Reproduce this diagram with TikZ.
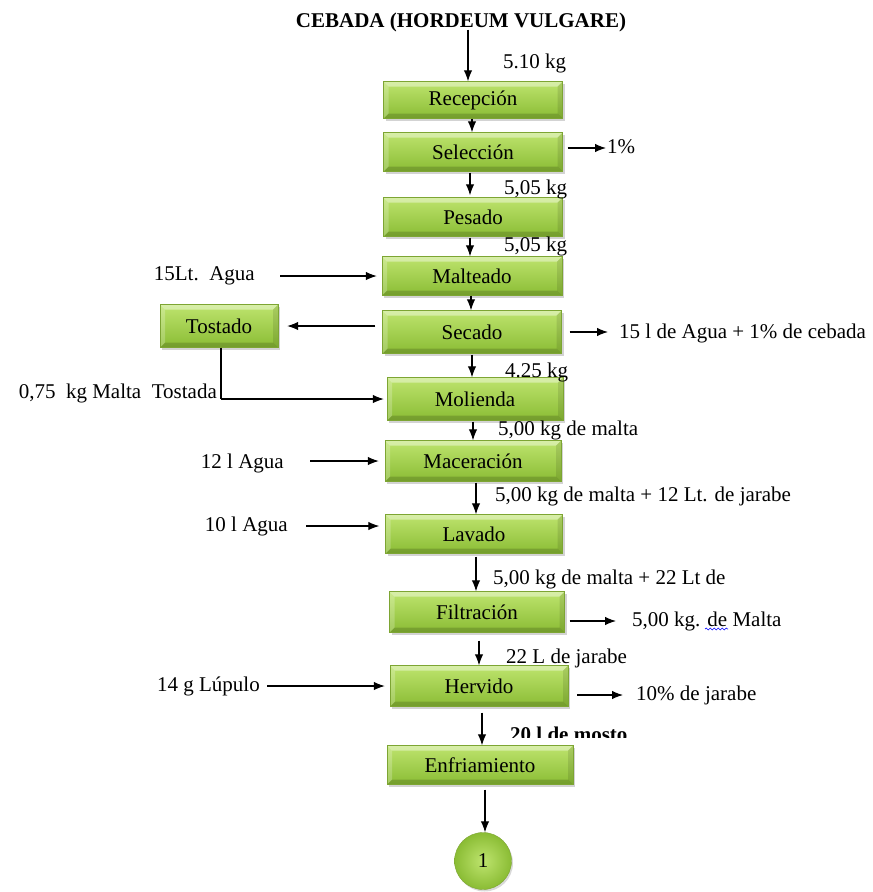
\documentclass[tikz,border=0pt]{standalone}
\usepackage{fontspec}
\setmainfont{Liberation Serif}
\usetikzlibrary{arrows.meta,shadows,decorations.pathmorphing}
\definecolor{boxtop}{HTML}{BEE46E}
\definecolor{boxbot}{HTML}{8ABC34}
\definecolor{boxedge}{HTML}{7DA533}
\newcommand{\fs}{\fontsize{21}{25}\selectfont}
\tikzset{
  procbox/.style={rectangle, draw=boxedge, line width=0.4pt, top color=boxtop, bottom color=boxbot,
    drop shadow={shadow xshift=2pt, shadow yshift=-2.5pt, opacity=0.35},
    font=\fs, inner sep=0pt,
    path picture={
      \fill[white,opacity=0.4] (path picture bounding box.north west) -- (path picture bounding box.north east)
        -- ([shift={(-5pt,-5pt)}]path picture bounding box.north east) -- ([shift={(5pt,-5pt)}]path picture bounding box.north west) -- cycle;
      \fill[black,opacity=0.16] (path picture bounding box.south west) -- (path picture bounding box.south east)
        -- ([shift={(-5pt,5pt)}]path picture bounding box.south east) -- ([shift={(5pt,5pt)}]path picture bounding box.south west) -- cycle;
      \fill[white,opacity=0.22] (path picture bounding box.north west) -- (path picture bounding box.south west)
        -- ([shift={(5pt,5pt)}]path picture bounding box.south west) -- ([shift={(5pt,-5pt)}]path picture bounding box.north west) -- cycle;
      \fill[black,opacity=0.1] (path picture bounding box.north east) -- (path picture bounding box.south east)
        -- ([shift={(-5pt,5pt)}]path picture bounding box.south east) -- ([shift={(-5pt,-5pt)}]path picture bounding box.north east) -- cycle;
    }},
  lbl/.style={font=\fs, inner sep=0pt, text height=14pt, text depth=4pt},
  arr/.style={line width=1.1pt, -{Latex[length=11pt,width=8.5pt]}},
  ln/.style={line width=1.1pt},
}
\begin{document}
\begin{tikzpicture}[x=1pt,y=-1pt]
\useasboundingbox (0,0) rectangle (873,892);
% title
\node[font=\fs\bfseries, inner sep=0pt] (title) at (461,22) {CEBADA (HORDEUM VULGARE)};
% process boxes
\node[procbox, minimum width=179pt, minimum height=37pt] (rec) at (473,100) {Recepción};
\node[procbox, minimum width=179pt, minimum height=39pt] (sel) at (473,152) {Selección};
\node[procbox, minimum width=179pt, minimum height=39pt] (pes) at (473,217) {Pesado};
\node[procbox, minimum width=180pt, minimum height=39pt] (mal) at (472,276) {Malteado};
\node[procbox, minimum width=179pt, minimum height=43pt] (sec) at (472,332) {Secado};
\node[procbox, minimum width=118pt, minimum height=43pt] (tos) at (219,326) {Tostado};
\node[procbox, minimum width=176pt, minimum height=43pt] (mol) at (475,399) {Molienda};
\node[procbox, minimum width=176pt, minimum height=41pt] (mac) at (473,461) {Maceración};
\node[procbox, minimum width=177pt, minimum height=39pt] (lav) at (474,534) {Lavado};
\node[procbox, minimum width=175pt, minimum height=41pt] (fil) at (477,612) {Filtración};
\node[procbox, minimum width=178pt, minimum height=41pt] (her) at (479,686) {Hervido};
\node[procbox, minimum width=186pt, minimum height=39pt] (enf) at (480,765) {Enfriamiento};
\node[circle, draw=boxedge, line width=0.4pt, minimum size=57pt, inner sep=0pt, inner color=boxtop, outer color=boxbot,
      drop shadow={shadow xshift=1.5pt, shadow yshift=-2pt, opacity=0.3}, font=\fs] (one) at (483,861) {1};
% labels
\node[lbl, anchor=west] (l1) at (503,63) {5.10 kg};
\node[lbl, anchor=west] (p1) at (607,148) {1\%};
\node[lbl, anchor=west] (l2) at (504,189) {5,05 kg};
\node[lbl, anchor=west] (l3) at (504,246) {5,05 kg};
\node[lbl, anchor=east] (agua1) at (255,275) {15Lt.\ \ Agua};
\node[lbl, anchor=west] (out1) at (619,333) {15 l de Agua + 1\% de cebada};
\node[lbl, anchor=west] (l4) at (505,372) {4.25 kg};
\node[lbl, anchor=east] (mt) at (217,393) {0,75\ \ kg Malta\ \ Tostada};
\node[lbl, anchor=west] (l5) at (498,430) {5,00 kg de malta};
\node[lbl, anchor=east] (agua2) at (284,463) {12 l Agua};
\node[lbl, anchor=west] (l6) at (495,496) {5,00 kg de malta + 12 Lt. de jarabe};
\node[lbl, anchor=east] (agua3) at (288,526) {10 l Agua};
\node[lbl, anchor=west] (l7) at (493,579) {5,00 kg de malta + 22 Lt de};
\node[lbl, anchor=west] (out2) at (632,621) {5,00 kg. de Malta};
\node[lbl, anchor=west] (l8) at (506,658) {22 L de jarabe};
\node[lbl, anchor=east] (lup) at (260,686) {14 g Lúpulo};
\node[lbl, anchor=west] (out3) at (636,695) {10\% de jarabe};
\begin{scope}
  \clip (500,715) rectangle (660,737.5);
  \node[lbl, anchor=west, font=\fs\bfseries] (l9) at (510,736) {20 l de mosto};
\end{scope}
% spell-check underline
\draw[blue, line width=0.6pt, decorate, decoration={snake, segment length=4pt, amplitude=0.9pt}] (705,629) -- (728,629);
% main flow arrows
\draw[arr] ([xshift=7pt,yshift=2pt]title.south) -- ([xshift=-5pt]rec.north);
\draw[arr] ([xshift=-1pt]rec.south) -- ([xshift=-1pt]rec.south |- sel.north);
\draw[arr] ([xshift=-3pt,yshift=-1pt]sel.south) -- ([xshift=-3pt,yshift=2pt]sel.south |- pes.north);
\draw[arr] ([xshift=-3pt,yshift=-1pt]pes.south) -- ([xshift=-3pt]pes.south |- mal.north);
\draw[arr] ([xshift=-1pt]mal.south) -- ([xshift=-1pt]mal.south |- sec.north);
\draw[arr] ([yshift=-1pt]sec.south) -- (sec.south |- mol.north);
\draw[arr] ([xshift=-2pt,yshift=-1pt]mol.south) -- ([xshift=-2pt]mol.south |- mac.north);
\draw[arr] ([xshift=3pt,yshift=-1pt]mac.south) -- ([xshift=3pt]mac.south |- lav.north);
\draw[arr] ([xshift=2pt,yshift=-3pt]lav.south) -- ([xshift=2pt]lav.south |- fil.north);
\draw[arr] ([xshift=2pt,yshift=-8pt]fil.south) -- ([xshift=2pt]fil.south |- her.north);
\draw[arr] ([xshift=3pt,yshift=-6pt]her.south) -- ([xshift=3pt]her.south |- enf.north);
\draw[arr] ([xshift=5pt,yshift=-5pt]enf.south) -- ([xshift=5pt]enf.south |- one.north);
% side arrows
\draw[arr] ([xshift=5pt]sel.east |- p1.west) -- ([xshift=-1pt]p1.west);
\draw[arr] ([xshift=25pt]agua1.east |- mal.west) -- ([xshift=-5pt]mal.west);
\draw[arr] ([xshift=-7pt]sec.west |- tos.east) -- ([xshift=9pt]tos.east);
\draw[arr] ([xshift=8pt]sec.east) -- ([xshift=-11pt]out1.west |- sec.east);
\draw[ln] ([xshift=2pt]tos.south) -- ([xshift=2pt]tos.south |- mol.west);
\draw[arr] ([xshift=2pt]tos.south |- mol.west) -- ([xshift=-3pt]mol.west);
\draw[arr] ([xshift=26pt]agua2.east |- mac.west) -- ([xshift=-6pt]mac.west);
\draw[arr] ([xshift=18pt]agua3.east) -- ([xshift=-6pt]lav.west |- agua3.east);
\draw[arr] ([xshift=5pt]fil.east |- out2.west) -- ([xshift=-16pt]out2.west);
\draw[arr] ([xshift=7pt]lup.east) -- ([xshift=-5pt]her.west);
\draw[arr] ([xshift=9pt]her.east |- out3.west) -- ([xshift=-13pt]out3.west);
\end{tikzpicture}
\end{document}
